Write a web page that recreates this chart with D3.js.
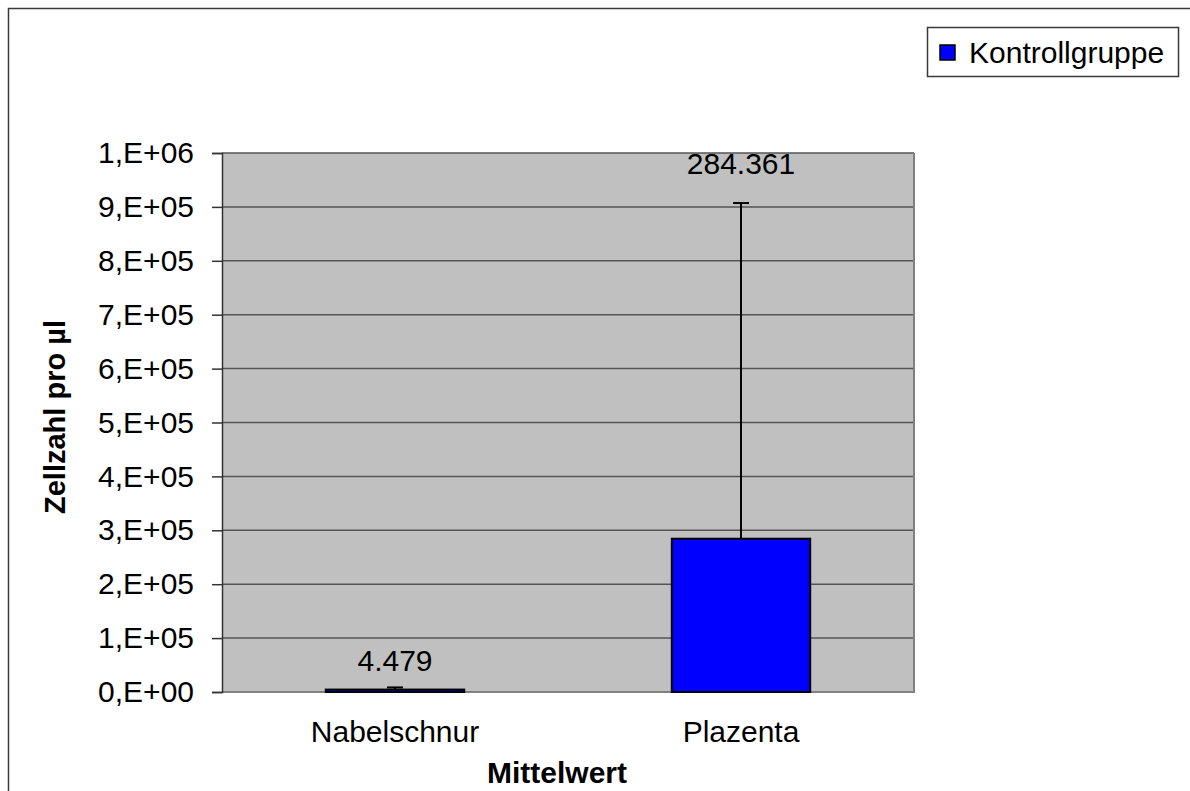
<!DOCTYPE html>
<html>
<head>
<meta charset="utf-8">
<script src="https://cdn.jsdelivr.net/npm/d3@7"></script>
<style>
  body { margin: 0; background: #fff; }
  text { font-family: "Liberation Sans", Arial, sans-serif; }
</style>
</head>
<body>
<script>
const categories = ['Nabelschnur', 'Plazenta'];
const means = [4479, 284361];
const errors = [4000, 622800];
const yTicks = [0, 1e5, 2e5, 3e5, 4e5, 5e5, 6e5, 7e5, 8e5, 9e5, 1e6];
const seriesName = 'Kontrollgruppe';
const yTitle = 'Zellzahl pro µl';
const xTitle = 'Mittelwert';

const svgWidth = 1190;
const svgHeight = 791;
const plot = { left: 222, right: 914, top: 153, bottom: 692 };
const fontSize = 30;

const svg = d3.select('body').append('svg')
  .attr('width', svgWidth)
  .attr('height', svgHeight);

// outer chart frame (runs off the right and bottom edge)
svg.append('rect')
  .attr('x', 8.5).attr('y', 8.5)
  .attr('width', svgWidth + 20).attr('height', svgHeight + 20)
  .attr('fill', 'none')
  .attr('stroke', '#3a3a3a')
  .attr('stroke-width', 1.5);

const xScale = d3.scaleBand()
  .domain(categories)
  .range([plot.left, plot.right]);

const yScale = d3.scaleLinear()
  .domain([0, 1e6])
  .range([plot.bottom, plot.top]);

const de = d3.formatLocale({ decimal: ',', thousands: '.', grouping: [3], currency: ['', ' €'] });
const fmtLabel = de.format(',d');

function fmtTick(d) {
  if (d === 0) return '0,E+00';
  const exp = Math.floor(Math.log10(d) + 1e-9);
  const mant = Math.round(d / Math.pow(10, exp));
  return `${mant},E+${String(exp).padStart(2, '0')}`;
}

// plot background
svg.append('rect')
  .attr('x', plot.left).attr('y', plot.top)
  .attr('width', plot.right - plot.left)
  .attr('height', plot.bottom - plot.top)
  .attr('fill', '#c0c0c0');

// gridlines
svg.append('g')
  .selectAll('line')
  .data(yTicks.filter(d => d > 0))
  .enter()
  .append('line')
  .attr('x1', plot.left).attr('x2', plot.right)
  .attr('y1', d => yScale(d)).attr('y2', d => yScale(d))
  .attr('stroke', '#555')
  .attr('stroke-width', 1.5);

// right and bottom frame of the plot area
svg.append('path')
  .attr('d', `M${plot.right},${plot.top}V${plot.bottom}H${plot.left}`)
  .attr('fill', 'none')
  .attr('stroke', '#808080')
  .attr('stroke-width', 2);

// y axis
const yAxis = d3.axisLeft(yScale)
  .tickValues(yTicks)
  .tickFormat(fmtTick)
  .tickSize(10)
  .tickPadding(18);

const gy = svg.append('g')
  .attr('transform', `translate(${plot.left}, 0)`)
  .call(yAxis);
gy.select('.domain').attr('stroke', '#333').attr('stroke-width', 1.5);
gy.selectAll('.tick line').attr('stroke', '#333').attr('stroke-width', 1.5);
gy.selectAll('.tick text')
  .attr('font-size', fontSize)
  .attr('font-family', '"Liberation Sans", Arial, sans-serif')
  .attr('fill', '#000');

// bars
const barWidth = xScale.bandwidth() * 0.4;
svg.append('g')
  .selectAll('rect')
  .data(categories)
  .enter()
  .append('rect')
  .attr('x', d => xScale(d) + (xScale.bandwidth() - barWidth) / 2)
  .attr('y', (d, i) => yScale(means[i]))
  .attr('width', barWidth)
  .attr('height', (d, i) => plot.bottom - yScale(means[i]))
  .attr('fill', '#0000ff')
  .attr('stroke', '#000')
  .attr('stroke-width', 2);

// error bars (upper only)
const errG = svg.append('g').attr('stroke', '#000').attr('stroke-width', 2);
categories.forEach((c, i) => {
  const cx = xScale(c) + xScale.bandwidth() / 2;
  const yTop = yScale(means[i] + errors[i]);
  errG.append('line')
    .attr('x1', cx).attr('x2', cx)
    .attr('y1', yScale(means[i])).attr('y2', yTop);
  errG.append('line')
    .attr('x1', cx - 8).attr('x2', cx + 8)
    .attr('y1', yTop).attr('y2', yTop);
});

// value labels: above the error bar, pushed up to the plot top when close to it
function labelY(i) {
  const y = yScale(means[i] + errors[i]) - 16;
  return y < plot.top + 40 ? plot.top + 21 : y;
}

svg.append('g')
  .selectAll('text')
  .data(categories)
  .enter()
  .append('text')
  .attr('x', d => xScale(d) + xScale.bandwidth() / 2)
  .attr('y', (d, i) => labelY(i))
  .attr('text-anchor', 'middle')
  .attr('font-size', fontSize)
  .text((d, i) => fmtLabel(means[i]));

// category labels
svg.append('g')
  .selectAll('text')
  .data(categories)
  .enter()
  .append('text')
  .attr('x', d => xScale(d) + xScale.bandwidth() / 2)
  .attr('y', 742)
  .attr('text-anchor', 'middle')
  .attr('font-size', fontSize)
  .text(d => d);

// axis titles
svg.append('text')
  .attr('x', 557)
  .attr('y', 783)
  .attr('text-anchor', 'middle')
  .attr('font-size', fontSize)
  .attr('font-weight', 'bold')
  .text(xTitle);

svg.append('text')
  .attr('transform', 'translate(65, 417) rotate(-90)')
  .attr('text-anchor', 'middle')
  .attr('font-size', 29)
  .attr('font-weight', 'bold')
  .text(yTitle);

// legend
const legend = svg.append('g');
legend.append('rect')
  .attr('x', 927.5).attr('y', 27.5)
  .attr('width', 251).attr('height', 49)
  .attr('fill', '#fff')
  .attr('stroke', '#3a3a3a')
  .attr('stroke-width', 1.5);
legend.append('rect')
  .attr('x', 940).attr('y', 45)
  .attr('width', 15).attr('height', 15)
  .attr('fill', '#0000ff')
  .attr('stroke', '#000')
  .attr('stroke-width', 1.5);
legend.append('text')
  .attr('x', 969)
  .attr('y', 63)
  .attr('font-size', fontSize)
  .text(seriesName);
</script>
</body>
</html>
